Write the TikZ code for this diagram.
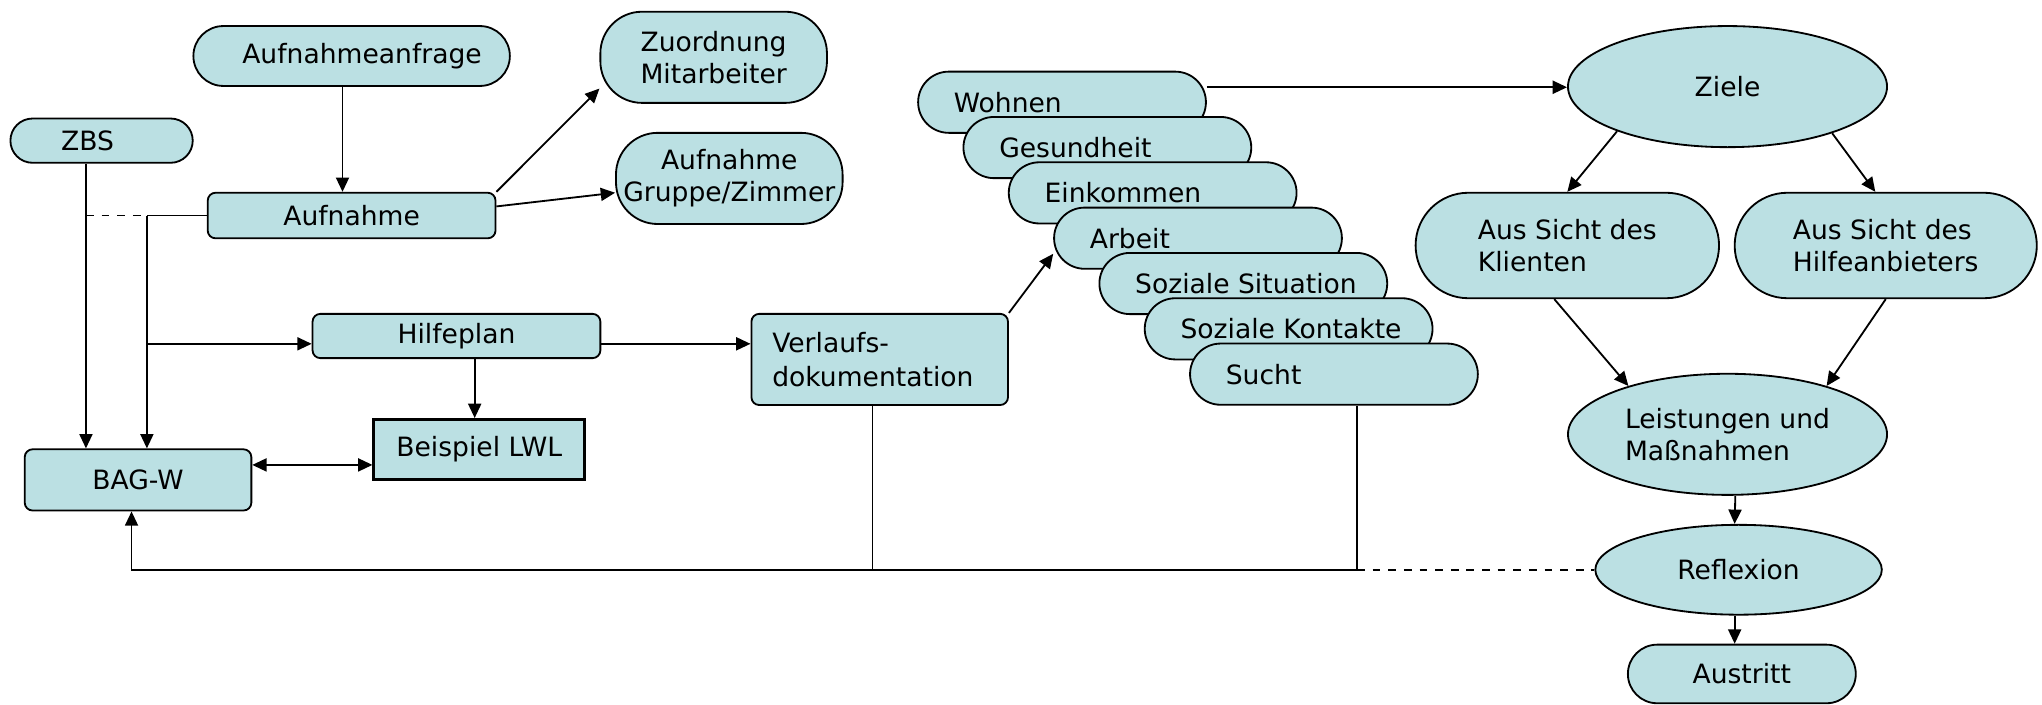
\documentclass[tikz,border=0pt]{standalone}
\usepackage{fontspec}
\setmainfont{DejaVu Sans}
\usetikzlibrary{arrows.meta,shapes.geometric}
\definecolor{boxfill}{HTML}{BBE0E3}
\tikzset{%
	>={Triangle[width=5pt,length=5.5pt]},
	% Specifications for style of nodes:
	base/.style = {rectangle, draw=black, line width=0.7pt, fill=boxfill,
		inner sep=0pt, align=left, font=\fontsize{10.2}{12.2}\selectfont},
	box/.style = {base, rounded corners=3pt},
	pill/.style = {base, rounded corners=#1},
	topic/.style = {pill=11.75pt, minimum width=110.5pt, minimum height=23.5pt},
	view/.style = {pill=20.25pt, minimum width=116.5pt, minimum height=40.5pt},
	oval/.style = {base, ellipse, minimum width=122.5pt, minimum height=46.5pt}
}

\begin{document}
\begin{tikzpicture}[x=0.5pt, y=-0.5pt, line width=0.7pt]
	\useasboundingbox (0,0) rectangle (1568,541);
	% Specification of nodes (position, etc.)
	\node (anfrage)   [pill=11.5pt, minimum width=121.5pt, minimum height=23pt] at (270,43) {\hspace*{8pt}Aufnahmeanfrage};
	\node (zuordnung) [pill=16pt, minimum width=87pt, minimum height=35pt] at (548,44) {Zuordnung\\Mitarbeiter};
	\node (zbs)       [pill=8.5pt, minimum width=70pt, minimum height=17pt, text width=31pt] at (78,108) {ZBS};
	\node (aufnahme)  [box, minimum width=110.5pt, minimum height=17.5pt, align=center] at (270,165.5) {Aufnahme};
	\node (gruppe)    [pill=16pt, minimum width=87pt, minimum height=35pt, align=center] at (560,137) {Aufnahme\\Gruppe/Zimmer};
	\node (hilfeplan) [box, minimum width=110.5pt, minimum height=17pt, align=center] at (350.5,258) {Hilfeplan};
	\node (verlauf)   [box, minimum width=98.5pt, minimum height=35pt, text width=82.5pt,
		font=\fontsize{10.2}{13}\selectfont] at (675.5,276) {Verlaufs-\\dokumentation};
	\node (lwl)       [base, line width=1pt, minimum width=81pt, minimum height=23pt, align=center] at (368,345) {Beispiel LWL};
	\node (bagw)      [box, minimum width=87pt, minimum height=23.5pt, align=center] at (106,368.5) {BAG-W};
	
	\foreach \name/\label [count=\i from 0] in {wohnen/Wohnen, gesundheit/Gesundheit,
		einkommen/Einkommen, arbeit/Arbeit, situation/Soziale Situation,
		kontakte/Soziale Kontakte, sucht/Sucht}
		\node (\name) [topic] at (815.5+34.8*\i, 78.5+34.8*\i) {\makebox[83pt][l]{\label}};
	
	\node (ziele)     [oval, align=center] at (1326.5,66.5) {Ziele};
	\node (klient)    [view] at (1203.5,188.5) {Aus Sicht des\\Klienten};
	\node (anbieter)  [view, minimum width=116pt] at (1448,188.5) {Aus Sicht des\\Hilfeanbieters};
	\node (leistung)  [oval] at (1326.5,333.5) {Leistungen und\\Maßnahmen};
	\node (reflexion) [oval, align=center, minimum width=110pt, minimum height=34.5pt] at (1335,437.5) {Reflexion};
	\node (austritt)  [pill=11.25pt, minimum width=87.5pt, minimum height=22.5pt, align=center] at (1337.5,517.5) {Austritt};
	
	\coordinate (zbsline) at ([xshift=-6pt]zbs.south);
	\coordinate (split)   at ([xshift=-23pt]aufnahme.west);
	\coordinate (hin)     at ([yshift=-3pt]hilfeplan.west);
	\coordinate (hout)    at ([yshift=-3pt]hilfeplan.east);
	\coordinate (hdown)   at ([xshift=7pt]hilfeplan.south);
	\coordinate (bag)     at ([yshift=5.75pt]bagw.east);
	\coordinate (wout)    at ([yshift=5.75pt]wohnen.east);
	\coordinate (vdown)   at ([xshift=-2.75pt]verlauf.south);
	\coordinate (sdown)   at ([xshift=8.85pt]sucht.south);
	\coordinate (back)    at (sdown |- reflexion.west);
	
	\draw[->] ([xshift=-3.5pt]anfrage.south) -- ([xshift=-3.5pt]aufnahme.north);
	\draw[->] (aufnahme.north east) -- ([yshift=-12pt]zuordnung.west);
	\draw[->] ([yshift=3.5pt]aufnahme.east) -- ([yshift=-5.5pt]gruppe.west);
	\draw[->] (zbsline) -- (zbsline |- bagw.north);
	\draw[dashed] (zbsline |- split) -- (split);
	\draw (split) -- (aufnahme.west);
	\draw[->] (split) -- (split |- bagw.north);
	\draw[->] (split |- hin) -- (hin);
	\draw[->] (hout) -- (hout -| verlauf.west);
	\draw[->] (hdown) -- (hdown |- lwl.north);
	\draw[<->] (bag) -- (bag -| lwl.west);
	\draw[->] (verlauf.north east) -- ([yshift=-6pt]arbeit.west);
	\draw[->] (wout) -- (wout -| ziele.west);
	\draw (vdown) -- (vdown |- back);
	\draw (sdown) -- (back);
	\draw[->] (back) -| ([xshift=-2.5pt]bagw.south);
	\draw[dashed] (back) -- (reflexion.west);
	\draw[->] (ziele.202) -- (klient.north);
	\draw[->] (ziele.336) -- ([xshift=-4pt]anbieter.north);
	\draw[->] ([xshift=-5pt]klient.south) -- (leistung.154);
	\draw[->] (anbieter.south) -- (leistung.26);
	\draw[->] ([xshift=3pt]leistung.south) -- ([xshift=-1.5pt]reflexion.north);
	\draw[->] ([xshift=-1.5pt]reflexion.south) -- ([xshift=-2.75pt]austritt.north);
\end{tikzpicture}
\end{document}
